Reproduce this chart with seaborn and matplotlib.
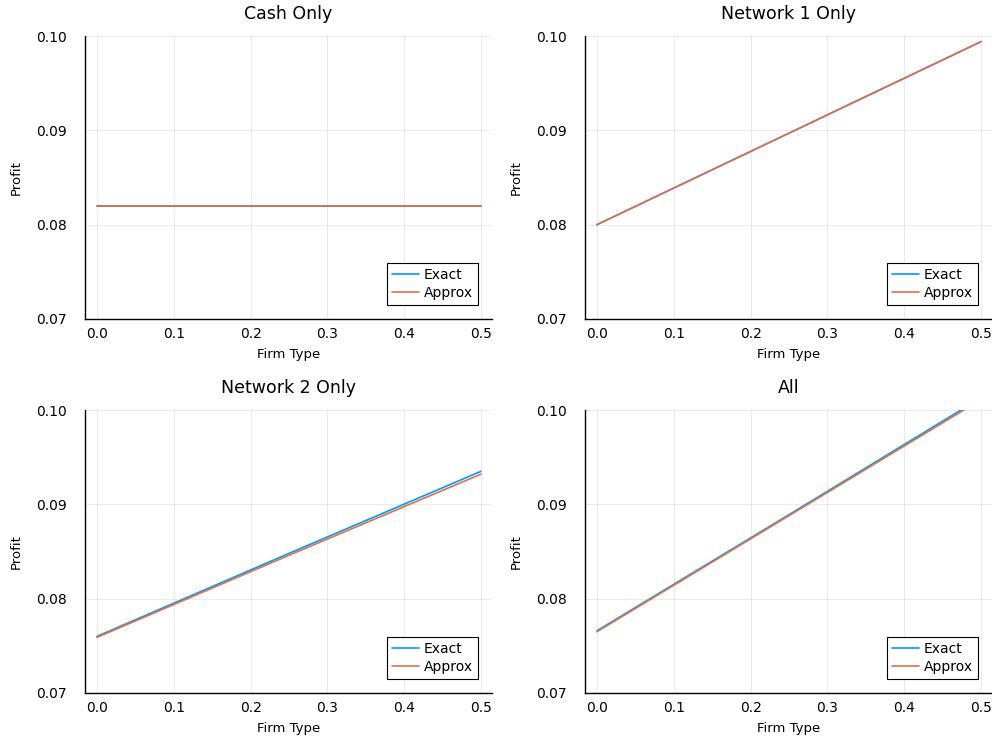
import numpy as np
import pandas as pd
import matplotlib
matplotlib.use("Agg")
import matplotlib.pyplot as plt
import seaborn as sns

# firm type grid and profits
firm_type = [0.0, 0.25, 0.5]

cash_exact = [0.0820, 0.0820, 0.0820]
cash_approx = [0.0820, 0.0820, 0.0820]

net1_exact = [0.0800, 0.0897, 0.0994]
net1_approx = [0.0800, 0.0897, 0.0994]

net2_exact = [0.0760, 0.0848, 0.0935]
net2_approx = [0.0759, 0.0846, 0.0932]

all_exact = [0.0766, 0.0889, 0.1013]
all_approx = [0.0765, 0.0888, 0.1011]

titles = ["Cash Only", "Network 1 Only", "Network 2 Only", "All"]
exact_series = [cash_exact, net1_exact, net2_exact, all_exact]
approx_series = [cash_approx, net1_approx, net2_approx, all_approx]

sns.set_style("white")
plt.rcParams["font.family"] = ["DejaVu Sans"]
plt.rcParams["text.color"] = "black"
plt.rcParams["axes.labelcolor"] = "black"

fig = plt.figure(figsize=(9.92, 7.47), dpi=100)

lefts = [85 / 992, 585 / 992]
bottoms = [1 - 319 / 747, 1 - 693 / 747]
w = 407 / 992
h = 283 / 747

for i, title in enumerate(titles):
    ax = fig.add_axes([lefts[i % 2], bottoms[i // 2], w, h])
    df = pd.DataFrame({
        "Firm Type": firm_type * 2,
        "Profit": exact_series[i] + approx_series[i],
        "series": ["Exact"] * 3 + ["Approx"] * 3,
    })
    sns.lineplot(data=df, x="Firm Type", y="Profit", hue="series",
                 palette=["#009AFA", "#E36F47"], linewidth=1.2, ax=ax)
    ax.set_xlim(-0.0156, 0.5143)
    ax.set_ylim(0.07, 0.10)
    ax.set_xticks([0.0, 0.1, 0.2, 0.3, 0.4, 0.5])
    ax.set_yticks([0.07, 0.08, 0.09, 0.10])
    ax.set_yticklabels(["0.07", "0.08", "0.09", "0.10"])
    ax.set_title(title, fontsize=12.5, color="black", pad=12)
    ax.set_xlabel("Firm Type", fontsize=9.5, labelpad=5)
    ax.set_ylabel("Profit", fontsize=9.5, labelpad=10)
    ax.grid(True, color="black", alpha=0.08, linewidth=0.8)
    for s in ["top", "right"]:
        ax.spines[s].set_visible(False)
    for s in ["left", "bottom"]:
        ax.spines[s].set_color("black")
        ax.spines[s].set_linewidth(1.0)
    ax.tick_params(direction="in", length=3, labelsize=10, colors="black")
    ax.tick_params(axis="y", pad=13)
    ax.tick_params(axis="x", pad=6)
    leg = ax.legend(loc="lower right", fontsize=10, fancybox=False,
                    edgecolor="black", framealpha=1, handlelength=1.9,
                    borderaxespad=1.0, borderpad=0.35, labelspacing=0.3,
                    handletextpad=0.4, title=None)
    leg.get_frame().set_linewidth(0.8)

fig.savefig("out.png", dpi=100)
